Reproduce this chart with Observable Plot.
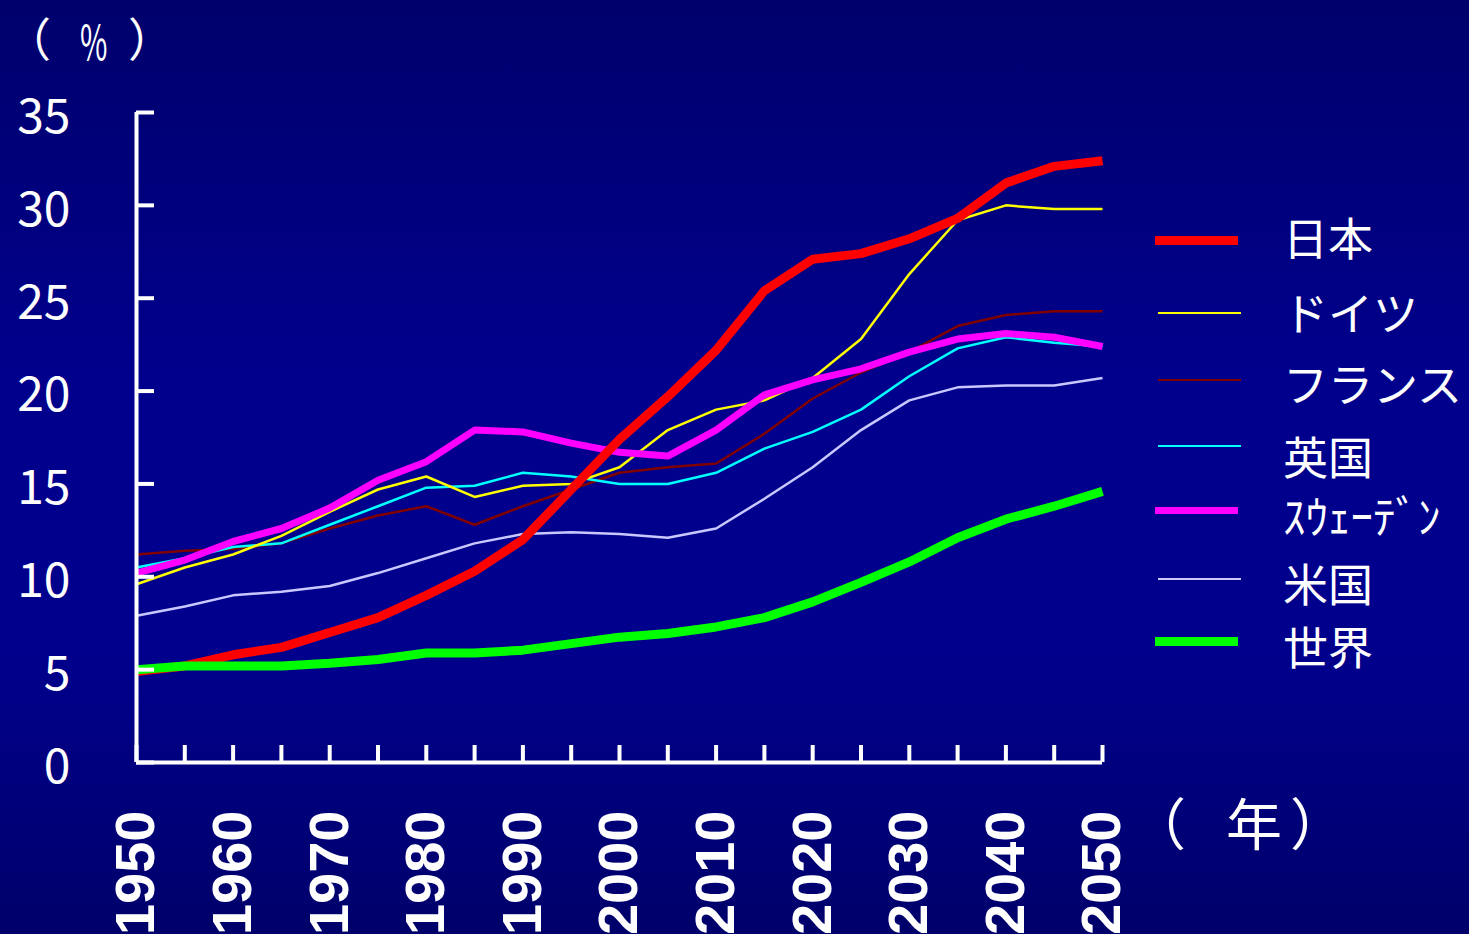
<!DOCTYPE html>
<html><head><meta charset="utf-8">
<script src="https://cdn.jsdelivr.net/npm/d3@7"></script>
<script src="https://cdn.jsdelivr.net/npm/@observablehq/plot@0.6"></script>
<style>
html,body{margin:0;padding:0;}
body{width:1469px;height:934px;overflow:hidden;position:relative;
background:linear-gradient(to bottom,#00006c 0%,#00008c 40%,#00008c 70%,#00006a 100%);
font-family:"Noto Sans CJK JP",sans-serif;color:#fff;}
#chart{position:absolute;left:0;top:0;}
.t{position:absolute;white-space:pre;line-height:1;color:#fff;}
.sw{position:absolute;}
</style></head><body>
<div id="chart"></div>
<div id="overlay"></div>
<script>
const years = [1950,1955,1960,1965,1970,1975,1980,1985,1990,1995,2000,2005,2010,2015,2020,2025,2030,2035,2040,2045,2050];
const japan   = [4.9,5.2,5.8,6.2,7.0,7.8,9.0,10.3,12.0,14.7,17.4,19.7,22.2,25.4,27.1,27.4,28.2,29.3,31.2,32.1,32.4];
const germany = [9.6,10.5,11.2,12.2,13.5,14.7,15.4,14.3,14.9,15.0,15.9,17.9,19.0,19.5,20.7,22.8,26.3,29.2,30.0,29.8,29.8];
const france  = [11.2,11.4,11.5,11.8,12.6,13.3,13.8,12.8,13.8,14.7,15.6,15.9,16.1,17.7,19.6,21.0,22.1,23.5,24.1,24.3,24.3];
const uk      = [10.5,11.0,11.6,11.8,12.8,13.8,14.8,14.9,15.6,15.4,15.0,15.0,15.6,16.9,17.8,19.0,20.8,22.3,22.9,22.6,22.4];
const sweden  = [10.2,10.9,11.9,12.6,13.7,15.2,16.2,17.9,17.8,17.2,16.7,16.5,17.9,19.8,20.6,21.2,22.1,22.8,23.1,22.9,22.4];
const usa     = [7.9,8.4,9.0,9.2,9.5,10.2,11.0,11.8,12.3,12.4,12.3,12.1,12.6,14.2,15.9,17.9,19.5,20.2,20.3,20.3,20.7];
const world   = [5.0,5.2,5.2,5.2,5.35,5.55,5.9,5.9,6.05,6.4,6.75,6.95,7.3,7.8,8.65,9.7,10.8,12.1,13.1,13.8,14.6];
const seriesNames = ["日本","ドイツ","フランス","英国","ｽｳｪｰﾃﾞﾝ","米国","世界"];
const seriesValues = [japan,germany,france,uk,sweden,usa,world];
const yTicks = [0,5,10,15,20,25,30,35];
const xLabelTicks = [1950,1960,1970,1980,1990,2000,2010,2020,2030,2040,2050];
const yUnit = ["（","%","）"];
const xUnit = ["（","年","）"];

// styles (kept apart from data)
const colors = ["#ff0000","#ffff00","#800000","#00ffff","#ff00ff","#c8c8ff","#00ff00"];
const widths = [9,2.5,2.5,2.5,7,2.5,9];
const drawOrder = [2,3,5,1,4,0,6];
const legendSwatchY = [240,313,380,446,510,579,641];
const legendLabelY  = [236,311,382,455,514,582,645];

const tables = seriesValues.map(vals => years.map((yr,i)=>({year:yr, value:vals[i]})));

const lineMarks = drawOrder.map(k => Plot.line(tables[k], {
  x:"year", y:"value", stroke: colors[k], strokeWidth: widths[k],
  strokeLinejoin:"miter", strokeLinecap:"butt"
}));

const chart = Plot.plot({
  width:1469, height:934,
  marginLeft:136, marginRight:367, marginTop:112, marginBottom:172,
  style:{background:"transparent", color:"white", overflow:"visible"},
  x:{domain:[1950,2050], label:null},
  y:{domain:[0,35], label:null},
  marks:[
    ...lineMarks,
    Plot.axisY({ticks:yTicks, tickSize:-18, strokeWidth:4, stroke:"white", tickFormat:()=>"", label:null}),
    Plot.axisY({ticks:yTicks, tickSize:0, tickPadding:66, fontSize:48, fontFamily:"Noto Sans CJK JP", fill:"white", dy:5, label:null, tickFormat:d=>String(d)}),
    Plot.axisX({ticks:years, tickSize:-17, strokeWidth:4, stroke:"white", tickFormat:()=>"", label:null}),
    Plot.axisX({ticks:xLabelTicks, tickSize:0, tickPadding:48, tickRotate:-90, fontSize:56, fontWeight:"bold", fontFamily:"Liberation Sans", fill:"white", label:null, tickFormat:d=>String(d)}),
    Plot.ruleX([1950], {stroke:"white", strokeWidth:4}),
    Plot.ruleY([0], {stroke:"white", strokeWidth:4})
  ]
});
document.getElementById("chart").appendChild(chart);

// overlay texts and legend
const ov = document.getElementById("overlay");
function addText(txt, left, top, size){
  const d=document.createElement("div"); d.className="t"; d.textContent=txt;
  d.style.left=left+"px"; d.style.top=top+"px"; d.style.fontSize=size+"px"; ov.appendChild(d); return d;
}
addText(yUnit[0], 5, 13, 46);
const pct = addText(yUnit[1], 80, 15, 48);
pct.style.transform="scaleX(0.62)"; pct.style.transformOrigin="left top";
addText(yUnit[2], 128, 13, 46);
addText(xUnit[0], 1130, 793, 56);
addText(xUnit[1], 1226, 793, 56);
addText(xUnit[2], 1290, 793, 56);
seriesNames.forEach((name,k)=>{
  const s=document.createElement("div"); s.className="sw";
  const thick = widths[k] > 4;
  s.style.left=(thick?1155:1158)+"px"; s.style.width="83px";
  s.style.height=widths[k]+"px"; s.style.top=(legendSwatchY[k]-widths[k]/2)+"px";
  s.style.background=colors[k]; ov.appendChild(s);
  addText(name, 1283, legendLabelY[k]-22.5, 45);
});
</script>
</body></html>
